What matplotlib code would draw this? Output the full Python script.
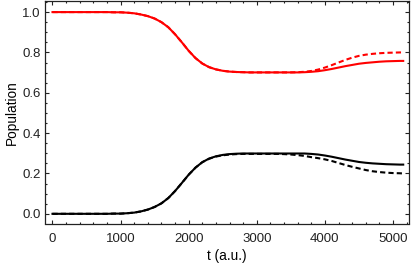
import matplotlib
matplotlib.use("Agg")
import matplotlib.pyplot as plt
from matplotlib.ticker import MultipleLocator
import numpy as np

plt.rcParams['font.family'] = ['Liberation Sans', 'DejaVu Sans']

# time grid (a.u.)
t = np.append(np.arange(0, 5101, 100), 5150)

# populations
red_solid = [1.000, 1.000, 1.000, 1.000, 1.000, 1.000, 1.000, 1.000, 1.000, 0.999,
             0.999, 0.997, 0.994, 0.988, 0.980, 0.968, 0.950, 0.925, 0.890, 0.850,
             0.808, 0.772, 0.745, 0.727, 0.716, 0.709, 0.705, 0.703, 0.702, 0.701,
             0.701, 0.701, 0.701, 0.701, 0.701, 0.701, 0.701, 0.702, 0.704, 0.707,
             0.712, 0.718, 0.725, 0.732, 0.738, 0.744, 0.748, 0.751, 0.754, 0.756,
             0.757, 0.758, 0.758]
red_dashed = [1.000, 1.000, 1.000, 1.000, 1.000, 1.000, 1.000, 1.000, 1.000, 0.999,
              0.999, 0.997, 0.994, 0.988, 0.980, 0.968, 0.950, 0.925, 0.890, 0.850,
              0.808, 0.772, 0.745, 0.727, 0.716, 0.709, 0.705, 0.703, 0.702, 0.701,
              0.701, 0.701, 0.701, 0.701, 0.701, 0.701, 0.702, 0.704, 0.708, 0.715,
              0.725, 0.737, 0.750, 0.763, 0.774, 0.783, 0.789, 0.793, 0.796, 0.798,
              0.799, 0.800, 0.800]
black_solid = [0.000, 0.000, 0.000, 0.000, 0.000, 0.000, 0.000, 0.000, 0.000, 0.001,
               0.001, 0.003, 0.006, 0.012, 0.021, 0.034, 0.052, 0.078, 0.113, 0.153,
               0.194, 0.229, 0.256, 0.274, 0.285, 0.292, 0.296, 0.298, 0.299, 0.299,
               0.299, 0.299, 0.299, 0.299, 0.299, 0.299, 0.299, 0.299, 0.297, 0.294,
               0.289, 0.283, 0.276, 0.269, 0.263, 0.257, 0.253, 0.250, 0.248, 0.246,
               0.245, 0.244, 0.244]
black_dashed = [0.000, 0.000, 0.000, 0.000, 0.000, 0.000, 0.000, 0.000, 0.000, 0.001,
                0.001, 0.003, 0.006, 0.012, 0.021, 0.034, 0.052, 0.078, 0.113, 0.153,
                0.194, 0.229, 0.256, 0.273, 0.284, 0.290, 0.294, 0.296, 0.297, 0.297,
                0.297, 0.297, 0.297, 0.297, 0.296, 0.294, 0.291, 0.287, 0.281, 0.276,
                0.270, 0.262, 0.252, 0.242, 0.233, 0.225, 0.217, 0.211, 0.207, 0.204,
                0.202, 0.201, 0.200]

fig = plt.figure(figsize=(4.12, 2.69), dpi=100)
ax = fig.add_axes([45 / 412, 1 - 223.5 / 269, 364 / 412, 222.5 / 269])

lw = 1.5
ax.plot(t, red_solid, color='#ff0000', lw=lw)
ax.plot(t, black_solid, color='black', lw=lw)
ax.plot(t, red_dashed, color='#ff0000', lw=lw, ls=(0, (2.5, 1.5)))
ax.plot(t, black_dashed, color='black', lw=lw, ls=(0, (2.5, 1.5)))

ax.set_xlim(-110, 5235)
ax.set_ylim(-0.048, 1.055)

ax.xaxis.set_major_locator(MultipleLocator(1000))
ax.xaxis.set_minor_locator(MultipleLocator(200))
ax.yaxis.set_major_locator(MultipleLocator(0.2))
ax.yaxis.set_minor_locator(MultipleLocator(0.05))
ax.yaxis.set_major_formatter(plt.FuncFormatter(lambda v, p: f"{v:.1f}"))

ax.tick_params(which='both', direction='in', top=True, right=True, width=0.8,
               labelsize=9.5, colors='#222222')
ax.tick_params(which='major', length=3.2)
ax.tick_params(which='minor', length=1.7)
ax.tick_params(axis='x', pad=6.5)
ax.tick_params(axis='y', pad=3)
for s in ax.spines.values():
    s.set_linewidth(0.9)
    s.set_color('#222222')

ax.set_xlabel('t (a.u.)', fontsize=9.8, labelpad=3.5)
ax.set_ylabel('Population', fontsize=9.8, labelpad=2.5)

fig.savefig('out.png', dpi=100)
